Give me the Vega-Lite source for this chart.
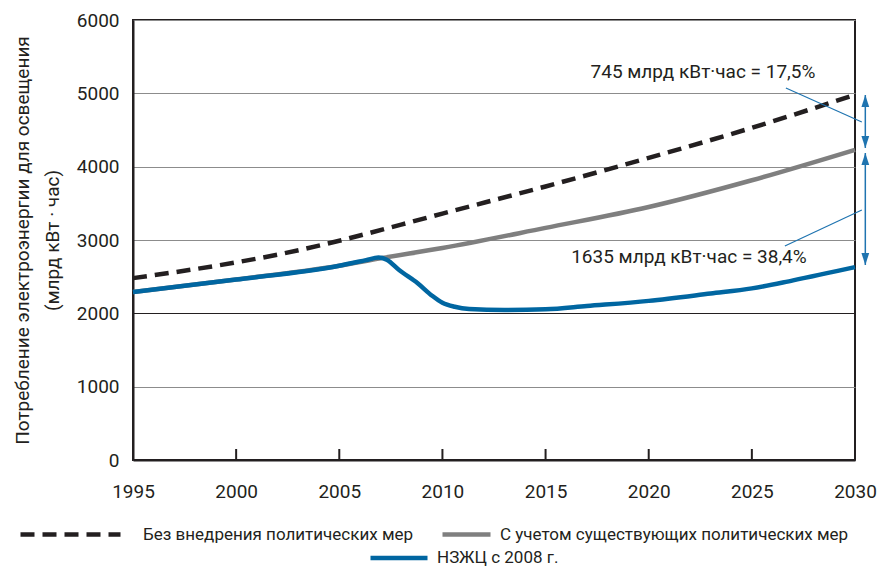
{
  "$schema": "https://vega.github.io/schema/vega-lite/v6.json",
  "width": 722,
  "height": 440,
  "autosize": {"type": "none"},
  "padding": {"left": 133, "top": 20, "right": 22, "bottom": 106},
  "background": "white",
  "config": {
    "font": "Roboto",
    "view": {"stroke": "#231f20", "strokeWidth": 2},
    "axis": {
      "labelFont": "Roboto",
      "labelFontSize": 19,
      "labelColor": "#231f20",
      "titleFont": "Roboto",
      "titleFontWeight": "normal",
      "titleFontSize": 19,
      "titleColor": "#231f20",
      "domainColor": "#231f20",
      "domainWidth": 2,
      "ticks": false,
      "tickSize": 0
    },
    "legend": {
      "labelFont": "Roboto",
      "labelFontSize": 17,
      "labelColor": "#231f20",
      "labelLimit": 0,
      "symbolType": "stroke",
      "symbolStrokeWidth": 4.5,
      "title": null,
      "padding": 0
    }
  },
  "datasets": {
    "lines": [
      {"year": 1995, "value": 2480, "series": "Без внедрения политических мер"},
      {"year": 1997, "value": 2560, "series": "Без внедрения политических мер"},
      {"year": 2000, "value": 2695, "series": "Без внедрения политических мер"},
      {"year": 2002, "value": 2800, "series": "Без внедрения политических мер"},
      {"year": 2005, "value": 2990, "series": "Без внедрения политических мер"},
      {"year": 2008, "value": 3210, "series": "Без внедрения политических мер"},
      {"year": 2010, "value": 3360, "series": "Без внедрения политических мер"},
      {"year": 2015, "value": 3730, "series": "Без внедрения политических мер"},
      {"year": 2020, "value": 4120, "series": "Без внедрения политических мер"},
      {"year": 2025, "value": 4530, "series": "Без внедрения политических мер"},
      {"year": 2030, "value": 4980, "series": "Без внедрения политических мер"},
      {"year": 1995, "value": 2290, "series": "С учетом существующих политических мер"},
      {"year": 2000, "value": 2460, "series": "С учетом существующих политических мер"},
      {"year": 2005, "value": 2650, "series": "С учетом существующих политических мер"},
      {"year": 2007, "value": 2750, "series": "С учетом существующих политических мер"},
      {"year": 2010, "value": 2890, "series": "С учетом существующих политических мер"},
      {"year": 2015, "value": 3165, "series": "С учетом существующих политических мер"},
      {"year": 2020, "value": 3450, "series": "С учетом существующих политических мер"},
      {"year": 2025, "value": 3815, "series": "С учетом существующих политических мер"},
      {"year": 2030, "value": 4230, "series": "С учетом существующих политических мер"},
      {"year": 1995, "value": 2290, "series": "НЗЖЦ с 2008 г."},
      {"year": 2000, "value": 2460, "series": "НЗЖЦ с 2008 г."},
      {"year": 2005, "value": 2650, "series": "НЗЖЦ с 2008 г."},
      {"year": 2006.3, "value": 2725, "series": "НЗЖЦ с 2008 г."},
      {"year": 2006.9, "value": 2760, "series": "НЗЖЦ с 2008 г."},
      {"year": 2007.3, "value": 2730, "series": "НЗЖЦ с 2008 г."},
      {"year": 2007.9, "value": 2590, "series": "НЗЖЦ с 2008 г."},
      {"year": 2008.8, "value": 2410, "series": "НЗЖЦ с 2008 г."},
      {"year": 2009.5, "value": 2240, "series": "НЗЖЦ с 2008 г."},
      {"year": 2010, "value": 2145, "series": "НЗЖЦ с 2008 г."},
      {"year": 2010.6, "value": 2090, "series": "НЗЖЦ с 2008 г."},
      {"year": 2011.3, "value": 2060, "series": "НЗЖЦ с 2008 г."},
      {"year": 2013, "value": 2045, "series": "НЗЖЦ с 2008 г."},
      {"year": 2015, "value": 2055, "series": "НЗЖЦ с 2008 г."},
      {"year": 2017, "value": 2100, "series": "НЗЖЦ с 2008 г."},
      {"year": 2020, "value": 2170, "series": "НЗЖЦ с 2008 г."},
      {"year": 2023, "value": 2270, "series": "НЗЖЦ с 2008 г."},
      {"year": 2025, "value": 2340, "series": "НЗЖЦ с 2008 г."},
      {"year": 2027, "value": 2450, "series": "НЗЖЦ с 2008 г."},
      {"year": 2030, "value": 2630, "series": "НЗЖЦ с 2008 г."}
    ],
    "tickmarks": [
      {"t": 2000, "lo": 0, "hi": 150},
      {"t": 2005, "lo": 0, "hi": 150},
      {"t": 2010, "lo": 0, "hi": 150},
      {"t": 2015, "lo": 0, "hi": 150},
      {"t": 2020, "lo": 0, "hi": 150},
      {"t": 2025, "lo": 0, "hi": 150}
    ],
    "leaders": [
      {"xa": 2026.65, "ya": 5073, "xb": 2030.33, "yb": 4609},
      {"xa": 2026.6, "ya": 2918, "xb": 2030.33, "yb": 3409}
    ],
    "arrows": [
      {"x": 2030.5, "top": 4977, "bottom": 4255},
      {"x": 2030.5, "top": 4186, "bottom": 2659}
    ],
    "heads": [
      {"x": 2030.5, "y": 4977, "dir": "up"},
      {"x": 2030.5, "y": 4255, "dir": "down"},
      {"x": 2030.5, "y": 4186, "dir": "up"},
      {"x": 2030.5, "y": 2659, "dir": "down"}
    ],
    "notes": [
      {"label": "745 млрд кВт·час = 17,5%", "year": 2022.63, "value": 5291},
      {"label": "1635 млрд  кВт·час = 38,4%", "year": 2021.95, "value": 2768}
    ]
  },
  "resolve": {"scale": {"color": "independent"}, "legend": {"color": "independent"}},
  "layer": [
    {
      "data": {"name": "lines"},
      "transform": [{"filter": "datum.series === 'С учетом существующих политических мер'"}],
      "mark": {"type": "line", "strokeWidth": 4.5, "interpolate": "monotone"},
      "encoding": {
        "x": {
          "field": "year",
          "type": "quantitative",
          "scale": {"domain": [1995, 2030], "nice": false, "zero": false},
          "axis": {
            "title": null,
            "values": [1995, 2000, 2005, 2010, 2015, 2020, 2025, 2030],
            "format": "d",
            "grid": false,
            "labelPadding": 22,
            "labelFlush": false,
            "labelOverlap": false
          }
        },
        "y": {
          "field": "value",
          "type": "quantitative",
          "scale": {"domain": [0, 6000], "nice": false},
          "axis": {
            "title": ["Потребление электроэнергии для освещения", "(млрд кВт · час)"],
            "titleLineHeight": 30,
            "titlePadding": 14,
            "values": [0, 1000, 2000, 3000, 4000, 5000, 6000],
            "format": "d",
            "grid": true,
            "gridColor": {"condition": {"test": "datum.value === 2000", "value": "#231f20"}, "value": "#8c8c8c"},
            "gridWidth": 1,
            "labelPadding": 14
          }
        },
        "color": {
          "field": "series",
          "type": "nominal",
          "scale": {"domain": ["С учетом существующих политических мер"], "range": ["#7f7f7f"]},
          "legend": {"orient": "none", "legendX": 307, "legendY": 488, "symbolSize": 2304, "labelOffset": 7}
        }
      }
    },
    {
      "data": {"name": "lines"},
      "transform": [{"filter": "datum.series === 'Без внедрения политических мер'"}],
      "mark": {"type": "line", "strokeWidth": 4.5, "strokeDash": [14, 8], "interpolate": "monotone"},
      "encoding": {
        "x": {"field": "year", "type": "quantitative"},
        "y": {"field": "value", "type": "quantitative"},
        "color": {
          "field": "series",
          "type": "nominal",
          "scale": {"domain": ["Без внедрения политических мер"], "range": ["#231f20"]},
          "legend": {"orient": "none", "legendX": -115, "legendY": 462, "symbolSize": 10000, "symbolDash": [14, 8], "labelOffset": 20}
        }
      }
    },
    {
      "data": {"name": "lines"},
      "transform": [{"filter": "datum.series === 'НЗЖЦ с 2008 г.'"}],
      "mark": {"type": "line", "strokeWidth": 4.5, "interpolate": "monotone"},
      "encoding": {
        "x": {"field": "year", "type": "quantitative"},
        "y": {"field": "value", "type": "quantitative"},
        "color": {
          "field": "series",
          "type": "nominal",
          "scale": {"domain": ["НЗЖЦ с 2008 г."], "range": ["#0066a1"]},
          "legend": {"orient": "none", "legendX": 235, "legendY": 507, "symbolSize": 3249, "labelOffset": 7}
        }
      }
    },
    {
      "data": {"name": "tickmarks"},
      "mark": {"type": "rule", "color": "#231f20", "strokeWidth": 2},
      "encoding": {
        "x": {"field": "t", "type": "quantitative"},
        "y": {"field": "lo", "type": "quantitative"},
        "y2": {"field": "hi"}
      }
    },
    {
      "data": {"name": "leaders"},
      "mark": {"type": "rule", "color": "#1f74b0", "strokeWidth": 1.2},
      "encoding": {
        "x": {"field": "xa", "type": "quantitative"},
        "y": {"field": "ya", "type": "quantitative"},
        "x2": {"field": "xb"},
        "y2": {"field": "yb"}
      }
    },
    {
      "data": {"name": "arrows"},
      "mark": {"type": "rule", "color": "#1f74b0", "strokeWidth": 1.5},
      "encoding": {
        "x": {"field": "x", "type": "quantitative"},
        "y": {"field": "top", "type": "quantitative"},
        "y2": {"field": "bottom"}
      }
    },
    {
      "data": {"name": "heads"},
      "mark": {"type": "point", "filled": true, "opacity": 1, "color": "#1f74b0", "size": 144},
      "encoding": {
        "x": {"field": "x", "type": "quantitative"},
        "y": {"field": "y", "type": "quantitative"},
        "shape": {
          "field": "dir",
          "type": "nominal",
          "scale": {"domain": ["up", "down"], "range": ["M0,0L0.65,2L-0.65,2Z", "M0,0L0.65,-2L-0.65,-2Z"]},
          "legend": null
        }
      }
    },
    {
      "data": {"name": "notes"},
      "mark": {"type": "text", "font": "Roboto", "fontSize": 19, "color": "#231f20", "align": "center", "baseline": "middle"},
      "encoding": {
        "x": {"field": "year", "type": "quantitative"},
        "y": {"field": "value", "type": "quantitative"},
        "text": {"field": "label"}
      }
    }
  ]
}
